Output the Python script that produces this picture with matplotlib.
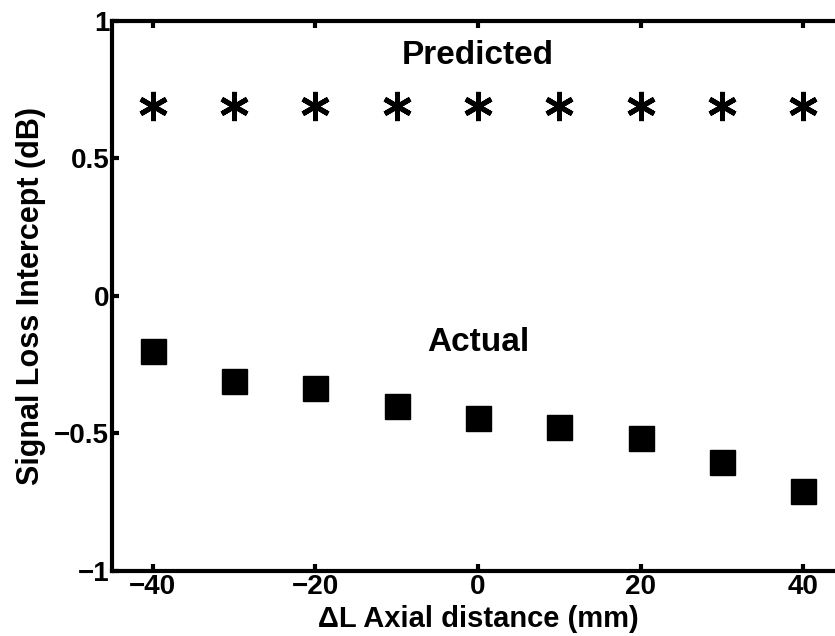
import matplotlib
matplotlib.use('Agg')
import matplotlib.pyplot as plt

# data
axial_mm = [-40, -30, -20, -10, 0, 10, 20, 30, 40]
predicted_db = [0.69, 0.69, 0.69, 0.69, 0.69, 0.69, 0.69, 0.69, 0.69]
actual_db = [-0.20, -0.31, -0.335, -0.40, -0.445, -0.475, -0.515, -0.605, -0.71]

x_ticks = [-40, -20, 0, 20, 40]
x_ticklabels = ['\u221240', '\u221220', '0', '20', '40']
y_ticks = [-1, -0.5, 0, 0.5, 1]
y_ticklabels = ['\u22121', '\u22120.5', '0', '0.5', '1']

plt.rcParams['font.family'] = ['Liberation Sans', 'DejaVu Sans']
plt.rcParams['font.weight'] = 'bold'

fig = plt.figure(figsize=(8.35, 6.36), dpi=100)
ax = fig.add_axes([0.1341, 0.1022, 0.8766, 0.8648])

ax.plot(axial_mm, predicted_db, linestyle='none', marker=(6, 2, 0),
        markersize=21, markeredgewidth=3.6, color='black')
ax.plot(axial_mm, actual_db, linestyle='none', marker='s',
        markersize=18, color='black')

ax.text(0, 0.875, 'Predicted', ha='center', va='center', fontsize=24, fontweight='bold')
ax.text(0, -0.17, 'Actual', ha='center', va='center', fontsize=24, fontweight='bold')

ax.set_xlim(-45, 45)
ax.set_ylim(-1, 1)
ax.set_xticks(x_ticks)
ax.set_xticklabels(x_ticklabels)
ax.set_yticks(y_ticks)
ax.set_yticklabels(y_ticklabels)

ax.set_xlabel('\u0394L Axial distance (mm)', fontsize=21, fontweight='bold', labelpad=4)
ax.set_ylabel('Signal Loss Intercept (dB)', fontsize=22, fontweight='bold', labelpad=6)

for s in ax.spines.values():
    s.set_linewidth(3)
ax.tick_params(direction='in', length=5, width=3, labelsize=20, pad=2,
               top=True, right=True)

fig.savefig('out.png', dpi=100)
